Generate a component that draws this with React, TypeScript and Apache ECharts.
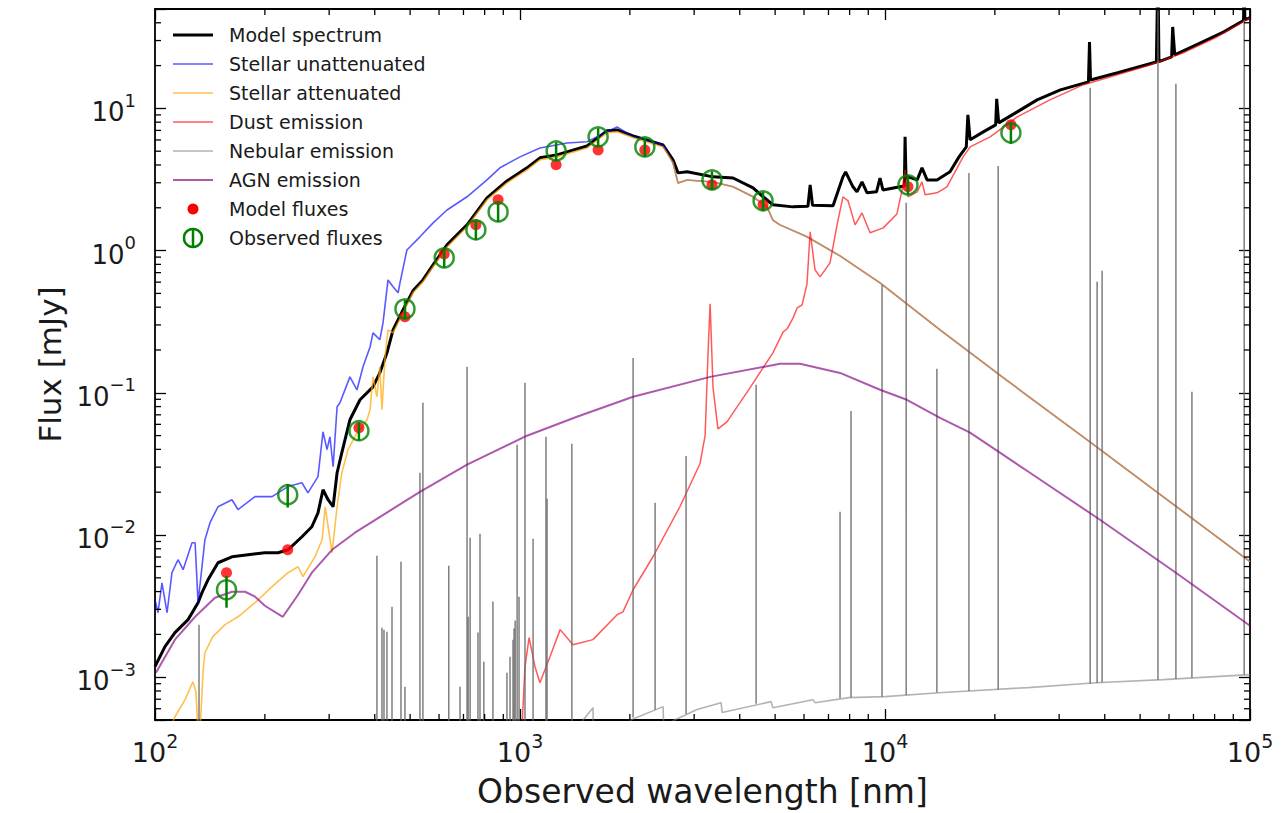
import React, { useEffect, useRef } from "react";
import * as echarts from "echarts";

// ---------- axes ----------
const X_MIN = 100;
const X_MAX = 100000;
const Y_MIN = 5e-4;
const Y_MAX = 50;
const xMajorTicks = [100, 1000, 10000, 100000];
const yMajorTicks = [1e-3, 1e-2, 1e-1, 1, 10];
const xMinorTicks = [
  200, 300, 400, 500, 600, 700, 800, 900,
  2000, 3000, 4000, 5000, 6000, 7000, 8000, 9000,
  20000, 30000, 40000, 50000, 60000, 70000, 80000, 90000,
];
const yMinorTicks = [
  6e-4, 7e-4, 8e-4, 9e-4,
  2e-3, 3e-3, 4e-3, 5e-3, 6e-3, 7e-3, 8e-3, 9e-3,
  0.02, 0.03, 0.04, 0.05, 0.06, 0.07, 0.08, 0.09,
  0.2, 0.3, 0.4, 0.5, 0.6, 0.7, 0.8, 0.9,
  2, 3, 4, 5, 6, 7, 8, 9,
  20, 30, 40,
];

// ---------- data: [wavelength nm, flux mJy] ----------
const modelSpectrum: [number, number][] = [
  [100, 0.00119], [106.5, 0.00164], [113.4, 0.00206], [123.2, 0.00254], [131.2, 0.00334],
  [134.5, 0.00393], [139.7, 0.00484], [148.8, 0.00638], [162.5, 0.00703], [179.8, 0.00726],
  [200, 0.0075], [217.3, 0.0075], [231.4, 0.00787], [252.7, 0.00972], [269, 0.01143],
  [279.6, 0.01432], [288.6, 0.0208], [298, 0.0177], [307.6, 0.0158], [315.4, 0.0274],
  [325, 0.0379], [342, 0.0646], [364.5, 0.0893], [395.6, 0.11], [413, 0.138], [432, 0.191],
  [449, 0.277], [478, 0.383], [509, 0.521], [542, 0.622], [578, 0.794], [631, 1.096],
  [716, 1.517], [812, 2.35], [921, 3.09], [1045, 3.82], [1134, 4.49], [1262, 4.71],
  [1527, 5.44], [1730, 6.95], [1845, 7.06], [2041, 6.41], [2466, 5.53], [2625, 4.35],
  [2710, 3.52], [2870, 3.58], [3380, 3.3], [3836, 3.24], [4350, 2.76], [4634, 2.39],
  [4930, 2.1], [5590, 2.03], [6150, 2.05], [6237, 2.9], [6330, 2.08], [7206, 2.07],
  [7670, 3.3], [7800, 3.58], [8170, 2.81], [8380, 2.59], [8650, 3.04], [8930, 2.55],
  [9480, 2.59], [9690, 3.24], [9870, 2.67], [10990, 2.81], [11300, 2.85], [11350, 6.31],
  [11420, 3.2], [11560, 3.3], [12250, 3.14], [12630, 3.82], [13040, 3.14], [13880, 3.14],
  [15070, 3.58], [15950, 4.56], [16700, 5.36], [16870, 9.0], [17110, 6.01], [18590, 6.84],
  [20100, 7.66], [20230, 11.66], [20490, 7.91], [23030, 9.45], [26100, 11.48], [30240, 13.5],
  [36090, 15.35], [36330, 29.3], [36560, 15.85], [43400, 17.8], [55400, 21.2], [55950, 100],
  [56300, 21.3], [61000, 23.0], [61400, 37.4], [62200, 23.8], [72950, 28.8], [84800, 34.5],
  [96000, 41.5], [96400, 84], [96800, 42.0], [100000, 43.5],
];

const stellarUnattenuated: [number, number][] = [
  [100, 0.00351], [101.9, 0.00284], [104.5, 0.00461], [107.9, 0.00284], [111.3, 0.00543],
  [115.6, 0.0067], [119.4, 0.0057], [126.3, 0.00881], [128.8, 0.00881], [131.2, 0.00334],
  [137, 0.00925], [141.5, 0.0122], [148.8, 0.0158], [162.5, 0.0177], [168.8, 0.0151],
  [187.9, 0.0186], [209.3, 0.0186], [231.4, 0.0219], [252.7, 0.0233], [262.4, 0.0198],
  [279.6, 0.0257], [288.6, 0.0532], [296, 0.0398], [301.5, 0.0491], [307.6, 0.0302],
  [315.4, 0.0798], [321.2, 0.0851], [342, 0.1294], [357.6, 0.105], [371.5, 0.1524],
  [388.3, 0.21], [395.6, 0.264], [413, 0.236], [421.4, 0.31], [434.9, 0.622], [449, 0.556],
  [463.5, 0.505], [469, 0.593], [490, 1.01], [532, 1.25], [578, 1.567], [631, 1.93],
  [716, 2.39], [812, 3.14], [881, 3.82], [1000, 4.56], [1134, 5.27], [1345, 5.71],
  [1527, 5.82], [1730, 6.84], [1845, 7.41], [2041, 6.31], [2466, 5.53], [2625, 4.14],
  [2710, 2.99], [2870, 3.14], [3380, 3.04], [3836, 2.81], [4350, 2.39], [4750, 2.03],
  [4930, 1.64], [5156, 1.517], [6113, 1.25], [7530, 0.918], [9690, 0.593], [14150, 0.277],
  [21480, 0.1233], [36650, 0.0446], [55950, 0.0198], [100000, 0.00649],
];

const stellarAttenuated: [number, number][] = [
  [103, 3e-4], [113.4, 5.27e-4], [120.9, 6.95e-4], [127, 9.29e-4], [129.5, 7.9e-4],
  [132, 3e-4], [135.5, 1.13e-3], [137, 1.486e-3], [144, 1.93e-3], [155.6, 2.34e-3],
  [168.8, 2.66e-3], [187.9, 3.34e-3], [209.3, 4.33e-3], [231.4, 5.43e-3], [246.6, 5.98e-3],
  [254.3, 5.09e-3], [274.3, 7.03e-3], [287, 9.25e-3], [292.6, 0.0158], [305.5, 7.5e-3],
  [315.4, 0.0158], [325, 0.0274], [337.9, 0.0398], [355.5, 0.0507], [381, 0.0646],
  [388.3, 0.0759], [395.6, 0.1294], [405.5, 0.0938], [413, 0.1524], [418.6, 0.0759],
  [426.8, 0.179], [434.9, 0.277], [449, 0.264], [478, 0.365], [509, 0.505], [542, 0.603],
  [578, 0.769], [631, 1.06], [716, 1.47], [812, 2.275], [921, 2.99], [1045, 3.7],
  [1134, 4.345], [1262, 4.56], [1527, 5.27], [1730, 6.73], [1845, 6.84], [2041, 6.21],
  [2466, 5.36], [2625, 4.14], [2710, 2.99], [2870, 3.14], [3380, 3.04], [3836, 2.81],
  [4350, 2.39], [4750, 2.03], [4930, 1.64], [5156, 1.517], [6113, 1.25], [7530, 0.918],
  [9690, 0.593], [14150, 0.277], [21480, 0.1233], [36650, 0.0446], [55950, 0.0198],
  [100000, 0.00649],
];

const dustEmission: [number, number][] = [
  [1005, 3e-4], [1032, 1.186e-3], [1059, 1.897e-3], [1099, 1.186e-3], [1134, 9.14e-4],
  [1208, 1.393e-3], [1288, 2.16e-3], [1397, 1.69e-3], [1585, 1.837e-3], [1845, 2.75e-3],
  [1915, 2.88e-3], [2041, 4.12e-3], [2314, 7.03e-3], [2742, 0.0158], [3112, 0.0317],
  [3215, 0.0499], [3275, 0.191], [3318, 0.423], [3380, 0.1084], [3486, 0.0558],
  [3690, 0.0625], [4266, 0.1084], [4930, 0.191], [5260, 0.2685], [5395, 0.282],
  [5600, 0.3365], [5745, 0.395], [5930, 0.416], [6113, 0.583], [6237, 1.355], [6430, 0.733],
  [6640, 0.653], [7070, 0.82], [7390, 1.517], [7670, 2.39], [7920, 2.24], [8280, 1.517],
  [8650, 1.84], [9100, 1.334], [9890, 1.445], [10780, 1.81], [11140, 2.67], [11350, 3.7],
  [11560, 2.39], [12250, 2.59], [12630, 3.04], [12880, 2.47], [13880, 2.55], [14780, 2.81],
  [16370, 4.56], [17110, 5.36], [19410, 6.31], [23030, 8.71], [28310, 11.48],
  [34860, 14.62], [53210, 20.2], [65430, 24.5], [81200, 31.8], [100000, 43.3],
];

const nebularContinuum: [number, number][] = [
  [1000, 1e-5], [1440, 4.5e-4], [1585, 6.1e-4], [1590, 3e-4], [1990, 3e-4], [2010, 5e-4],
  [2466, 6.21e-4], [2475, 4.6e-4], [3055, 5.92e-4], [3556, 6.62e-4], [3580, 5.64e-4],
  [4875, 6.73e-4], [4930, 6.1e-4], [6350, 6.95e-4], [6430, 6.62e-4], [7960, 7.18e-4],
  [10000, 7.3e-4], [14060, 7.78e-4], [24660, 8.45e-4], [37840, 9.14e-4], [57800, 9.62e-4],
  [100000, 1.042e-3],
];

// [wavelength, peak, base]
const nebularLines: [number, number, number][] = [
  [132, 2.34e-3, 1e-5], [405.5, 7.14e-3, 1e-5], [418.6, 2.23e-3, 1e-5], [424, 2.16e-3, 1e-5],
  [432, 2.09e-3, 1e-5], [446, 3.13e-3, 1e-5], [472, 6.49e-3, 1e-5], [484, 8.57e-4, 1e-5],
  [532, 0.0274, 1e-5], [542, 0.0851, 1e-5], [638, 6.08e-3, 1e-5], [685, 8.57e-4, 1e-5],
  [716, 0.1524, 1e-5], [721, 2.66e-3, 1e-5], [730, 9.55e-3, 1e-5], [767, 2.06e-3, 1e-5],
  [777, 0.0102, 1e-5], [796, 1.285e-3, 1e-5], [843, 3.4e-3, 1e-5], [921, 1.074e-3, 1e-5],
  [939, 1.393e-3, 1e-5], [957, 1.837e-3, 1e-5], [963, 2.2e-3, 1e-5], [970, 2.5e-3, 1e-5],
  [982, 0.0431, 1e-5], [994, 3.68e-3, 1e-5], [1032, 0.1175, 1e-5], [1086, 9.4e-3, 1e-5],
  [1178, 0.0491, 1e-5], [1186, 0.018, 1e-5], [1387, 0.0438, 1e-5], [2041, 0.176, 5.2e-4],
  [2345, 0.01686, 5.9e-4], [2851, 0.036, 5.5e-4], [4435, 0.1138, 6.5e-4],
  [7530, 0.01456, 7.1e-4], [8070, 0.0746, 7.2e-4], [9815, 0.574, 7.3e-4],
  [11430, 2.17, 7.5e-4], [13870, 0.1476, 7.8e-4], [16980, 3.52, 8.0e-4],
  [20420, 3.94, 8.2e-4], [36490, 13.9, 9.0e-4], [38120, 0.603, 9.1e-4],
  [39340, 0.721, 9.2e-4], [55950, 49, 9.6e-4], [62660, 14.9, 9.7e-4],
  [69320, 0.1016, 9.9e-4], [96400, 41.9, 1.04e-3],
];

const agnEmission: [number, number][] = [
  [100.6, 1.074e-3], [113.4, 1.837e-3], [128.8, 2.66e-3], [146, 3.62e-3], [162.5, 3.99e-3],
  [176.5, 3.99e-3], [188, 3.68e-3], [200, 3.18e-3], [224, 2.66e-3], [246.6, 3.8e-3],
  [269, 5.43e-3], [305.5, 7.87e-3], [353, 0.01038], [435, 0.01456], [532, 0.0201],
  [716, 0.0312], [1045, 0.0499], [1432, 0.0678], [2041, 0.0938], [3318, 0.1294],
  [5156, 0.16], [5848, 0.16], [7530, 0.138], [9690, 0.105], [11480, 0.0893],
  [14150, 0.0667], [17100, 0.0524], [24950, 0.0274], [38810, 0.0128], [62660, 5.43e-3],
  [100000, 2.3e-3],
];

const modelFluxes: [number, number][] = [
  [157, 5.43e-3], [231, 7.87e-3], [362, 0.0568], [484, 0.342], [620, 0.948], [757, 1.517],
  [871, 2.275], [1256, 4.01], [1637, 5.1], [2198, 5.1], [3357, 2.9], [4634, 2.1],
  [11560, 2.81], [22130, 7.66],
];

// [wavelength, flux, error]
const observedFluxes: [number, number, number][] = [
  [157, 4.12e-3, 1.04e-3], [231, 0.0192, 0.0036], [362, 0.0541, 0.008], [484, 0.389, 0.06],
  [620, 0.889, 0.13], [757, 1.4, 0.21], [871, 1.87, 0.28], [1256, 5.02, 0.75],
  [1637, 6.31, 0.95], [2198, 5.36, 0.8], [3357, 3.14, 0.47], [4634, 2.24, 0.34],
  [11560, 2.9, 0.43], [22130, 6.73, 1.1],
];

const legendNames = [
  "Model spectrum", "Stellar unattenuated", "Stellar attenuated", "Dust emission",
  "Nebular emission", "AGN emission", "Model fluxes", "Observed fluxes",
];

// ---------- styles ----------
const C_BLACK = "#000000";
const C_BLUE = "rgba(0,0,255,0.65)";
const C_ORANGE = "rgba(255,165,0,0.7)";
const C_RED = "rgba(255,0,0,0.65)";
const C_GRAY = "rgba(128,128,128,0.6)";
const C_GRAY_LINES = "rgba(105,105,105,0.85)";
const C_PURPLE = "rgba(128,0,128,0.65)";
const C_GREEN = "#008000";
const FONT = "DejaVu Sans";
const TXT = "#1a1a1a";

const powLabel = (majors: number[]) => (v: number) => {
  const lg = Math.log10(v);
  const e = Math.round(lg);
  if (Math.abs(lg - e) > 1e-6) return "";
  if (!majors.some((m) => Math.abs(Math.log10(m) - e) < 1e-6)) return "";
  const s = e < 0 ? "\u2212" + Math.abs(e) : String(e);
  return `{b|10}{s|${s}}`;
};

const richFor = (size: number) => ({
  b: { fontSize: size, fontFamily: FONT, color: TXT, lineHeight: size + 8, verticalAlign: "bottom" },
  s: { fontSize: Math.round(size * 0.7), fontFamily: FONT, color: TXT, lineHeight: Math.round(size * 0.7) + 2, verticalAlign: "top" },
});

function tickSeries(values: number[], dir: "x" | "y") {
  return {
    type: "custom",
    silent: true,
    z: 20,
    clip: false,
    data: values.map((v) => (dir === "x" ? [v, Y_MIN] : [X_MIN, v])),
    encode: { x: 0, y: 1 },
    renderItem: (params: any, api: any) => {
      const cs = params.coordSys;
      const p = api.coord([api.value(0), api.value(1)]);
      const len = 6;
      const style = { stroke: "#000", lineWidth: 1.3 };
      if (dir === "x") {
        return {
          type: "group",
          children: [
            { type: "line", shape: { x1: p[0], y1: cs.y + cs.height, x2: p[0], y2: cs.y + cs.height - len }, style },
            { type: "line", shape: { x1: p[0], y1: cs.y, x2: p[0], y2: cs.y + len }, style },
          ],
        };
      }
      return {
        type: "group",
        children: [
          { type: "line", shape: { x1: cs.x, y1: p[1], x2: cs.x + len, y2: p[1] }, style },
          { type: "line", shape: { x1: cs.x + cs.width, y1: p[1], x2: cs.x + cs.width - len, y2: p[1] }, style },
        ],
      };
    },
  };
}

function buildNebularLineData() {
  const out: any[] = [];
  nebularLines.forEach(([l, peak, base]) => {
    out.push([l, base], [l, peak], [l, "-"]);
  });
  return out;
}

function buildLegend() {
  const els: any[] = [];
  const x0 = 173, x1 = 213, tx = 229, y0 = 35, dy = 29;
  const lineStyles = [
    { stroke: C_BLACK, lineWidth: 3 },
    { stroke: C_BLUE, lineWidth: 1.6 },
    { stroke: C_ORANGE, lineWidth: 1.6 },
    { stroke: C_RED, lineWidth: 1.6 },
    { stroke: "rgba(128,128,128,0.6)", lineWidth: 1.6 },
    { stroke: C_PURPLE, lineWidth: 2 },
  ];
  legendNames.forEach((name, i) => {
    const y = y0 + i * dy;
    if (i < 6) {
      els.push({ type: "line", shape: { x1: x0, y1: y, x2: x1, y2: y }, style: lineStyles[i], silent: true });
    } else if (i === 6) {
      els.push({ type: "circle", shape: { cx: 193, cy: y, r: 5.5 }, style: { fill: "#ff0000" }, silent: true });
    } else {
      els.push({ type: "circle", shape: { cx: 193, cy: y, r: 9 }, style: { fill: "none", stroke: C_GREEN, lineWidth: 2.5 }, silent: true });
      els.push({ type: "line", shape: { x1: 193, y1: y - 9, x2: 193, y2: y + 9 }, style: { stroke: C_GREEN, lineWidth: 2.5 }, silent: true });
    }
    els.push({
      type: "text",
      x: tx,
      y,
      silent: true,
      style: { text: name, fontSize: 19, fontFamily: FONT, fill: TXT, verticalAlign: "middle", align: "left" },
    });
  });
  return els;
}

export default function App() {
  const ref = useRef<HTMLDivElement>(null);
  useEffect(() => {
    if (!ref.current) return;
    const chart = echarts.init(ref.current, null, { renderer: "svg" });
    const axisLine = { show: true, lineStyle: { color: "#000", width: 1.8 } };
    const axisTick = { show: true, inside: true, length: 11, lineStyle: { color: "#000", width: 1.3 } };
    const option: any = {
      animation: false,
      backgroundColor: "#ffffff",
      grid: { left: 155, right: 32, top: 9, bottom: 93, containLabel: false },
      xAxis: [
        {
          type: "log", logBase: 10, min: X_MIN, max: X_MAX, position: "bottom",
          axisLine, axisTick, splitLine: { show: false }, minorTick: { show: false },
          axisLabel: { formatter: powLabel(xMajorTicks), rich: richFor(27), margin: 11 },
          name: "Observed wavelength [nm]", nameLocation: "middle", nameGap: 55,
          nameTextStyle: { fontSize: 33, fontFamily: FONT, color: TXT },
        },
        {
          type: "log", logBase: 10, min: X_MIN, max: X_MAX, position: "top",
          axisLine, axisTick, splitLine: { show: false }, axisLabel: { show: false },
        },
      ],
      yAxis: [
        {
          type: "log", logBase: 10, min: Y_MIN, max: Y_MAX, position: "left",
          axisLine, axisTick, splitLine: { show: false }, minorTick: { show: false },
          axisLabel: { formatter: powLabel(yMajorTicks), rich: richFor(26), margin: 19 },
          name: "Flux [mJy]", nameLocation: "middle", nameGap: 72,
          nameTextStyle: { fontSize: 31, fontFamily: FONT, color: TXT },
        },
        {
          type: "log", logBase: 10, min: Y_MIN, max: Y_MAX, position: "right",
          axisLine, axisTick, splitLine: { show: false }, axisLabel: { show: false },
        },
      ],
      graphic: buildLegend(),
      series: [
        {
          name: "Model spectrum", type: "line", data: modelSpectrum, showSymbol: false, symbol: "none",
          lineStyle: { color: C_BLACK, width: 3 }, silent: true, z: 2,
        },
        {
          name: "Stellar unattenuated", type: "line", data: stellarUnattenuated, showSymbol: false, symbol: "none",
          lineStyle: { color: C_BLUE, width: 1.6 }, silent: true, z: 2,
        },
        {
          name: "Stellar attenuated", type: "line", data: stellarAttenuated, showSymbol: false, symbol: "none",
          lineStyle: { color: C_ORANGE, width: 1.6 }, silent: true, z: 2,
        },
        {
          name: "Dust emission", type: "line", data: dustEmission, showSymbol: false, symbol: "none",
          lineStyle: { color: C_RED, width: 1.5 }, silent: true, z: 2,
        },
        {
          name: "Nebular emission", type: "line", data: nebularContinuum, showSymbol: false, symbol: "none",
          lineStyle: { color: C_GRAY, width: 1.6 }, silent: true, z: 2,
        },
        {
          name: "Nebular emission", type: "line", data: buildNebularLineData(), showSymbol: false, symbol: "none",
          connectNulls: false, lineStyle: { color: C_GRAY_LINES, width: 1.5 }, silent: true, z: 2,
        },
        {
          name: "AGN emission", type: "line", data: agnEmission, showSymbol: false, symbol: "none",
          lineStyle: { color: C_PURPLE, width: 2 }, silent: true, z: 2,
        },
        {
          name: "Model fluxes", type: "scatter", data: modelFluxes, symbol: "circle", symbolSize: 11,
          itemStyle: { color: "#ff0000" }, silent: true, z: 3,
        },
        {
          name: "Observed fluxes", type: "custom", silent: true, z: 4,
          data: observedFluxes.map(([l, f, e]) => [l, f - e, f + e]),
          encode: { x: 0, y: [1, 2] },
          renderItem: (_p: any, api: any) => {
            const a = api.coord([api.value(0), api.value(1)]);
            const b = api.coord([api.value(0), api.value(2)]);
            return { type: "line", shape: { x1: a[0], y1: a[1], x2: b[0], y2: b[1] }, style: { stroke: C_GREEN, lineWidth: 2.5 } };
          },
        },
        {
          name: "Observed fluxes", type: "scatter", data: observedFluxes.map(([l, f]) => [l, f]),
          symbol: "circle", symbolSize: 19, silent: true, z: 4,
          itemStyle: { color: "rgba(0,0,0,0)", borderColor: C_GREEN, borderWidth: 2.5 },
        },
        tickSeries(xMinorTicks, "x"),
        tickSeries(yMinorTicks, "y"),
      ],
    };
    chart.setOption(option);
    return () => chart.dispose();
  }, []);
  return (
    <div
      ref={ref}
      style={{ position: "fixed", left: 0, top: 0, width: 1282, height: 813, background: "#fff" }}
    />
  );
}
